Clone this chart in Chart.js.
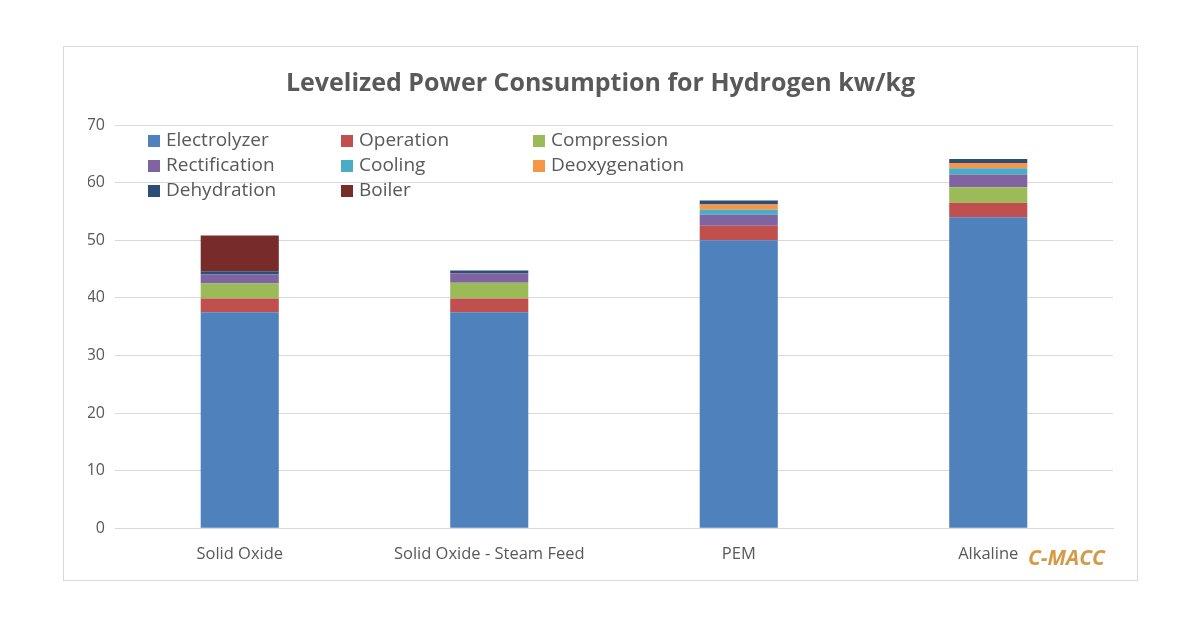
<!DOCTYPE html>
<html>
<head>
<meta charset="utf-8">
<script src="https://cdn.jsdelivr.net/npm/chart.js@4"></script>
<style>
  body { margin: 0; background: #fff; width: 1200px; height: 627px; position: relative; font-family: "Open Sans", sans-serif; }
  #box { position: absolute; left: 63px; top: 46px; width: 1073px; height: 533px; border: 1px solid #d9d9d9; }
  #c { display: block; }
  #brand { position: absolute; left: 1028px; top: 543px; font: italic bold 21px "Open Sans", sans-serif; color: #d39b45; }
</style>
</head>
<body>
<div id="box"><canvas id="c" width="1073" height="533"></canvas></div>
<div id="brand">C-MACC</div>
<script>
let categories = ["Solid Oxide", "Solid Oxide - Steam Feed", "PEM", "Alkaline"]
let seriesNames = ["Electrolyzer", "Operation", "Compression", "Rectification", "Cooling", "Deoxygenation", "Dehydration", "Boiler"]
let seriesColors = ["#4f81bd", "#c0504d", "#9bbb59", "#8064a2", "#4bacc6", "#f79646", "#2c4d75", "#772c2a"]

let electrolyzer = [37.5, 37.5, 50.0, 54.0]
let operation = [2.4, 2.4, 2.5, 2.5]
let compression = [2.6, 2.7, 0, 2.7]
let rectification = [1.6, 1.6, 1.9, 2.2]
let cooling = [0, 0, 0.9, 1.1]
let deoxygenation = [0, 0, 0.9, 0.9]
let dehydration = [0.5, 0.55, 0.7, 0.7]
let boiler = [6.2, 0, 0, 0]

let yTicks = [0, 10, 20, 30, 40, 50, 60, 70]

let seriesValues = [electrolyzer, operation, compression, rectification, cooling, deoxygenation, dehydration, boiler]

// legend drawn inside the plot area, like the original
const insideLegend = {
    id: 'insideLegend',
    afterDraw(chart) {
        const ctx = chart.ctx
        const area = chart.chartArea
        const colX = [33, 226, 418]
        const rowY = [16, 41, 66]
        ctx.save()
        ctx.font = '19px "Open Sans", sans-serif'
        ctx.textBaseline = 'middle'
        seriesNames.forEach((name, i) => {
            const x = area.left + colX[i % 3]
            const y = area.top + rowY[Math.floor(i / 3)]
            ctx.fillStyle = seriesColors[i]
            ctx.fillRect(x, y - 6, 12, 12)
            ctx.fillStyle = '#595959'
            ctx.fillText(name, x + 18, y)
        })
        ctx.restore()
    }
}

let datasets = seriesNames.map((name, i) => ({
    label: name,
    data: seriesValues[i],
    backgroundColor: seriesColors[i],
    barPercentage: 0.313,
    categoryPercentage: 1.0
}))

let ctx = document.getElementById('c').getContext('2d')
let myChart = new Chart(ctx, {
    type: 'bar',
    data: { labels: categories, datasets: datasets },
    plugins: [insideLegend],
    options: {
        responsive: false,
        animation: false,
        devicePixelRatio: 1,
        layout: { padding: { left: 24, right: 24, top: 0, bottom: 8 } },
        plugins: {
            legend: { display: false },
            tooltip: { enabled: false },
            title: {
                display: true,
                text: 'Levelized Power Consumption for Hydrogen kw/kg',
                color: '#595959',
                font: { family: '"Open Sans", sans-serif', size: 25, weight: 'bold' },
                padding: { top: 22, bottom: 26 }
            }
        },
        scales: {
            x: {
                stacked: true,
                grid: { display: false },
                border: { color: '#d9d9d9' },
                ticks: { color: '#595959', font: { family: '"Open Sans", sans-serif', size: 16.5 }, padding: 8, maxRotation: 0 }
            },
            y: {
                stacked: true,
                min: 0,
                max: 70,
                afterBuildTicks: (axis) => { axis.ticks = yTicks.map(v => ({ value: v })) },
                afterFit: (axis) => { axis.width = 27 },
                grid: { color: '#d9d9d9', drawTicks: false },
                border: { display: false },
                ticks: { color: '#595959', font: { family: '"Open Sans", sans-serif', size: 16 }, padding: 10 }
            }
        }
    }
})
</script>
</body>
</html>
